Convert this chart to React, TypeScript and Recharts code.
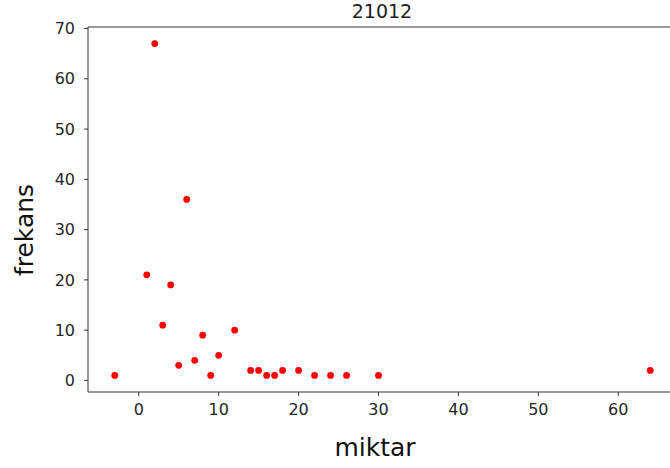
import { ScatterChart, Scatter, XAxis, YAxis, ReferenceLine } from 'recharts';

const amounts = [-3, 1, 2, 3, 4, 5, 6, 7, 8, 9, 10, 12, 14, 15, 16, 17, 18, 20, 22, 24, 26, 30, 64];
const counts = [1, 21, 67, 11, 19, 3, 36, 4, 9, 1, 5, 10, 2, 2, 1, 1, 2, 2, 1, 1, 1, 1, 2];
const xTicks = [0, 10, 20, 30, 40, 50, 60];
const yTicks = [0, 10, 20, 30, 40, 50, 60, 70];

const points = amounts.map((m, i) => ({ miktar: m, frekans: counts[i] }));

const axisColor = '#333';
const font = '"DejaVu Sans", sans-serif';

export default function App() {
  return (
    <div style={{ position: 'fixed', left: 0, top: 0, width: 670, height: 468, overflow: 'hidden', background: '#fff' }}>
      <ScatterChart width={720} height={468} margin={{ top: 27, right: 43, bottom: 0, left: 0 }}>
        <XAxis
          type="number"
          dataKey="miktar"
          domain={[-6.35, 67.35]}
          ticks={xTicks}
          allowDataOverflow
          height={76}
          stroke={axisColor}
          tickSize={4}
          tickMargin={8}
          tick={{ fontSize: 16, fill: '#262626', fontFamily: font }}
        />
        <YAxis
          type="number"
          dataKey="frekans"
          domain={[-2.3, 70.3]}
          ticks={yTicks}
          allowDataOverflow
          width={88}
          stroke={axisColor}
          tickSize={4}
          tickMargin={9}
          tick={{ fontSize: 16, fill: '#262626', fontFamily: font }}
        />
        <ReferenceLine y={70.3} stroke={axisColor} />
        <Scatter
          data={points}
          fill="#ff0000"
          isAnimationActive={false}
          shape={(p: any) => <circle cx={p.cx} cy={p.cy} r={3.4} fill="#ff0000" />}
        />
      </ScatterChart>
      <svg width={670} height={468} style={{ position: 'absolute', left: 0, top: 0, pointerEvents: 'none' }}>
        <text x={382} y={18} textAnchor="middle" fontSize={19} fontFamily={font} fill="#222">21012</text>
        <text x={375} y={456} textAnchor="middle" fontSize={25} fontFamily={font} fill="#111">miktar</text>
        <text x={33} y={230} transform="rotate(-90 33 230)" textAnchor="middle" fontSize={25} fontFamily={font} fill="#111">frekans</text>
      </svg>
    </div>
  );
}
